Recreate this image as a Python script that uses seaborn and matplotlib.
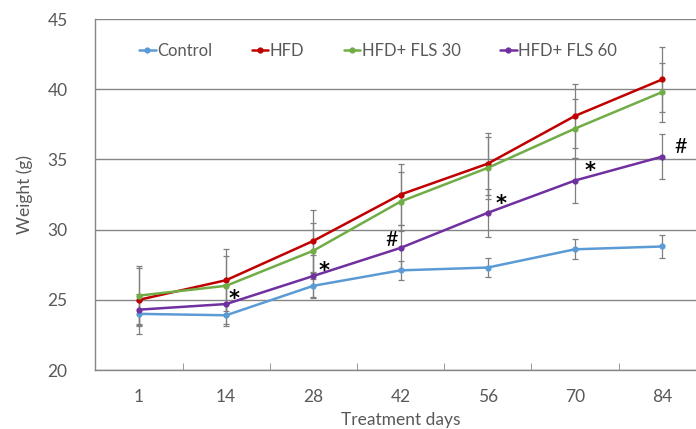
import numpy as np
import pandas as pd
import matplotlib
matplotlib.use("Agg")
import matplotlib.pyplot as plt
import seaborn as sns

# --- data ---
days = ["1", "14", "28", "42", "56", "70", "84"]
groups = ["Control", "HFD", "HFD+ FLS 30", "HFD+ FLS 60"]

control = [24.0, 23.9, 26.0, 27.1, 27.3, 28.6, 28.8]
hfd = [25.0, 26.4, 29.2, 32.5, 34.7, 38.1, 40.7]
fls30 = [25.3, 26.0, 28.5, 32.0, 34.4, 37.2, 39.8]
fls60 = [24.3, 24.7, 26.7, 28.7, 31.2, 33.5, 35.2]

control_sd = [0.9, 0.8, 0.9, 0.7, 0.7, 0.7, 0.8]
hfd_sd = [2.4, 2.2, 2.2, 2.2, 2.2, 2.3, 2.3]
fls30_sd = [2.0, 2.1, 2.0, 2.1, 2.2, 2.1, 2.1]
fls60_sd = [1.1, 1.4, 1.5, 1.6, 1.7, 1.6, 1.6]

# significance marks: x in category units, y = centre of the symbol
marks_x = [1.09, 2.12, 2.90, 4.15, 5.17, 6.21]
marks_y = [25.48, 27.48, 29.33, 32.2, 34.6, 35.99]
marks_txt = ["*", "*", "#", "*", "*", "#"]

colors = ["#5B9BD5", "#C00000", "#70AD47", "#7030A0"]

values = [control, hfd, fls30, fls60]
sds = [control_sd, hfd_sd, fls30_sd, fls60_sd]

df = pd.DataFrame({
    "pos": np.tile(np.arange(len(days)), len(groups)),
    "weight": np.concatenate(values),
    "sd": np.concatenate(sds),
    "group": np.repeat(groups, len(days)),
})

sns.set_style("white")
plt.rcParams["font.family"] = ["Lato", "DejaVu Sans"]
grey_txt = "#595959"

fig = plt.figure(figsize=(6.96, 4.29), dpi=100)
ax = fig.add_axes([0.137, 0.1375, 0.877, 0.818])

# error bars first so the lines sit on top
for g in groups:
    sub = df[df["group"] == g]
    ax.errorbar(sub["pos"], sub["weight"], yerr=sub["sd"], fmt="none",
                ecolor="#7F7F7F", elinewidth=0.9, capsize=2.5, capthick=0.9, zorder=2)

sns.lineplot(data=df, x="pos", y="weight", hue="group", hue_order=groups,
             palette=colors, marker="o", markersize=4.5, markeredgewidth=0,
             linewidth=1.8, errorbar=None, ax=ax, zorder=3)

# symbols drawn from their baseline; shift so the ink centre lands on marks_y
for x, y, t in zip(marks_x, marks_y, marks_txt):
    if t == "*":
        ax.text(x, y - 0.82, t, ha="center", va="baseline", fontsize=15,
                fontweight="bold", family="DejaVu Sans", color="black")
    else:
        ax.text(x, y - 0.5, t, ha="center", va="baseline", fontsize=15.5,
                family="Lato", color="black")

ax.set_xlim(-0.5, len(days) - 0.5)
ax.set_ylim(20, 45)
ax.set_yticks([20, 25, 30, 35, 40, 45])
ax.set_xticks(range(len(days)))
ax.set_xticklabels(days)
ax.set_xticks(np.arange(0.5, len(days) - 0.5, 1), minor=True)
ax.tick_params(axis="x", which="major", length=0, pad=14, labelsize=12.5, labelcolor=grey_txt)
ax.tick_params(axis="x", which="minor", direction="in", length=5, color="#868686", bottom=True)
ax.tick_params(axis="y", length=0, pad=20, labelsize=12.5, labelcolor=grey_txt)

ax.yaxis.grid(True, color="#868686", linewidth=1.0)
ax.set_axisbelow(True)
for s in ["top", "right"]:
    ax.spines[s].set_visible(False)
for s in ["left", "bottom"]:
    ax.spines[s].set_color("#868686")
    ax.spines[s].set_linewidth(1.0)

ax.set_xlabel("Treatment days", fontsize=12.5, color=grey_txt, labelpad=5)
ax.set_ylabel("Weight (g)", fontsize=12.5, color=grey_txt, labelpad=10)

ax.legend(title=None, ncol=4, frameon=False, loc="upper left",
          bbox_to_anchor=(0.047, 0.975), fontsize=12, handlelength=1.0,
          handletextpad=0.1, columnspacing=2.35, labelcolor=grey_txt)

fig.savefig("out.png", dpi=100)
